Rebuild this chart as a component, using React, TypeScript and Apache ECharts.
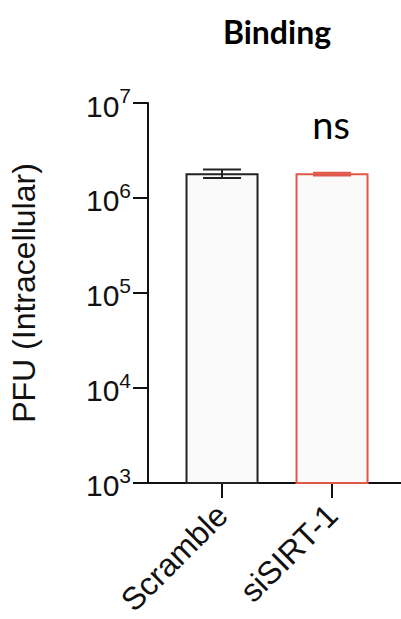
import React, { useEffect, useRef } from "react";
import * as echarts from "echarts";

const categories = ["Scramble", "siSIRT-1"];
const means = [1.78e6, 1.78e6];
const errLow = [1.62e6, 1.73e6];
const errHigh = [2.0e6, 1.84e6];
const barColors = ["#222222", "#e0584a"];
const yTickValues = [1e3, 1e4, 1e5, 1e6, 1e7];
const titleText = "Binding";
const sigText = "ns";
const yName = "PFU (Intracellular)";

const OFFSET = 0.673;

export default function App() {
  const ref = useRef<HTMLDivElement>(null);
  useEffect(() => {
    if (!ref.current) return;
    const chart = echarts.init(ref.current, null, { renderer: "svg" });
    const positions = categories.map((_, i) => i + OFFSET);
    const barData = categories.map((c, i) => [positions[i], means[i], i]);
    const errData = categories.map((c, i) => [positions[i], errLow[i], errHigh[i], i]);
    const font = "Liberation Sans";
    chart.setOption({
      animation: false,
      grid: { left: 148, right: 0, top: 103, bottom: 132, containLabel: false },
      xAxis: {
        type: "value",
        min: 0,
        max: 2.3,
        splitLine: { show: false },
        axisLine: { show: true, lineStyle: { color: "#111", width: 2 } },
        axisTick: {
          show: true,
          customValues: positions,
          length: 15,
          lineStyle: { color: "#111", width: 2 },
        },
        axisLabel: {
          customValues: positions,
          rotate: 45,
          margin: 27,
          fontSize: 32,
          fontFamily: font,
          color: "#111",
          formatter: (v: number) => {
            const idx = Math.round(v - OFFSET);
            return categories[idx] ?? "";
          },
        },
      },
      yAxis: {
        type: "log",
        logBase: 10,
        min: yTickValues[0],
        max: yTickValues[yTickValues.length - 1],
        name: yName,
        nameLocation: "middle",
        nameGap: 108,
        nameTextStyle: { fontSize: 32, fontFamily: font, color: "#111" },
        splitLine: { show: false },
        axisLine: { show: true, lineStyle: { color: "#111", width: 2 } },
        axisTick: { show: true, length: 15, lineStyle: { color: "#111", width: 2 } },
        axisLabel: {
          margin: 17,
          color: "#111",
          fontFamily: font,
          formatter: (v: number) => `{b|10}{s|${Math.round(Math.log10(v))}}`,
          rich: {
            b: { fontSize: 30, fontFamily: font, color: "#111", padding: [6, 0, 0, 0] },
            s: { fontSize: 21, fontFamily: font, color: "#111", verticalAlign: "top" },
          },
        },
      },
      series: [
        {
          type: "custom",
          data: barData,
          clip: false,
          renderItem: (params: any, api: any) => {
            const x = api.value(0);
            const y = api.value(1);
            const idx = api.value(2);
            const top = api.coord([x, y]);
            const base = api.coord([x, yTickValues[0]]);
            const w = 71;
            return {
              type: "rect",
              shape: { x: top[0] - w / 2, y: top[1], width: w, height: base[1] - top[1] },
              style: { fill: "#fafafa", stroke: barColors[idx], lineWidth: 2 },
            };
          },
        },
        {
          type: "custom",
          data: errData,
          clip: false,
          z: 3,
          renderItem: (params: any, api: any) => {
            const x = api.value(0);
            const lo = api.coord([x, api.value(1)]);
            const hi = api.coord([x, api.value(2)]);
            const idx = api.value(3);
            const cw = 19;
            const st = { stroke: barColors[idx], lineWidth: 2 };
            return {
              type: "group",
              children: [
                { type: "line", shape: { x1: lo[0], y1: lo[1], x2: hi[0], y2: hi[1] }, style: st },
                { type: "line", shape: { x1: lo[0] - cw, y1: lo[1], x2: lo[0] + cw, y2: lo[1] }, style: st },
                { type: "line", shape: { x1: hi[0] - cw, y1: hi[1], x2: hi[0] + cw, y2: hi[1] }, style: st },
              ],
            };
          },
        },
      ],
      graphic: [
        {
          type: "text",
          x: 277,
          y: 31,
          style: {
            text: titleText,
            fontSize: 32,
            fontWeight: "bold",
            fontFamily: "Lato",
            fill: "#000",
            align: "center",
            verticalAlign: "middle",
          },
        },
        {
          type: "text",
          x: 331,
          y: 124,
          style: {
            text: sigText,
            fontSize: 38,
            fontFamily: "Lato",
            fill: "#000",
            align: "center",
            verticalAlign: "middle",
          },
        },
      ],
    });
    return () => chart.dispose();
  }, []);
  return (
    <div
      ref={ref}
      style={{ position: "absolute", left: 0, top: 0, width: 401, height: 619, background: "#fff" }}
    />
  );
}
